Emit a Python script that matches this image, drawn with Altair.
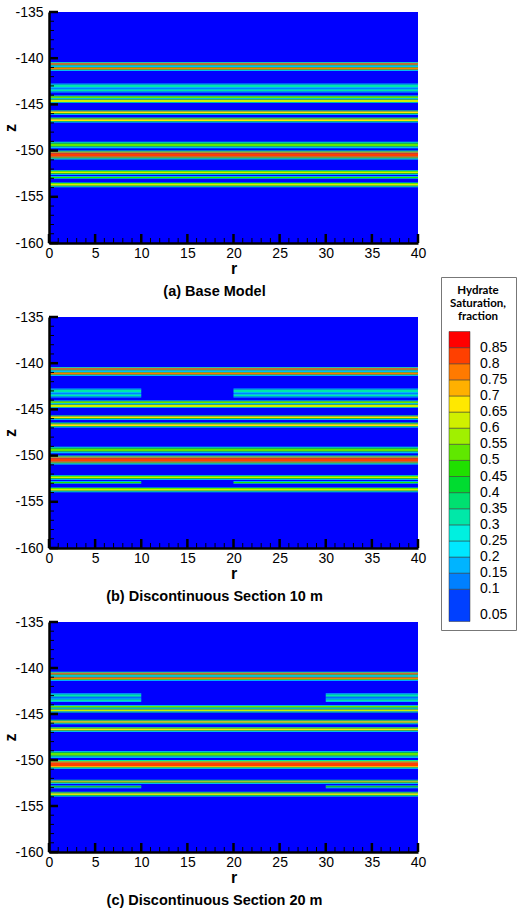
import altair as alt
import pandas as pd

# ---------------- data ----------------
R_RANGE = [0, 40]
Z_RANGE = [-160, -135]

THRESHOLDS = [0.05, 0.1, 0.15, 0.2, 0.25, 0.3, 0.35, 0.4, 0.45,
              0.5, 0.55, 0.6, 0.65, 0.7, 0.75, 0.8, 0.85]
COLORS = ["#0000FF", "#0040FF", "#0080FF", "#00B4FF", "#00E8FF", "#00F0E0",
          "#00E8A8", "#00E070", "#00DC30", "#20E000", "#60E800", "#A0F000",
          "#D0F000", "#FFE800", "#FFB000", "#FF7A00", "#FF4000", "#FF0000"]

# hydrate layers: strip tops, bottoms (m), saturation, layer id
STRIP_TOP = [-140.40, -140.48, -140.56, -140.72, -140.80, -140.88, -140.96, -141.04, -141.22, -141.30,
             -142.74, -142.84, -143.12, -143.22, -143.32, -143.42, -143.60,
             -144.05, -144.13, -144.33, -144.43, -144.51, -144.73,
             -145.62, -145.70, -145.78, -145.96, -146.04,
             -146.42, -146.50, -146.60, -146.80, -146.88,
             -149.05, -149.15, -149.25, -149.55, -149.65,
             -150.00, -150.10, -150.20, -150.30, -150.65, -150.75, -150.85,
             -152.14, -152.22, -152.31, -152.45, -152.53,
             -152.78, -152.86, -152.98,
             -153.44, -153.52, -153.61, -153.80, -153.88]
STRIP_BOT = [-140.48, -140.56, -140.72, -140.80, -140.88, -140.96, -141.04, -141.22, -141.30, -141.38,
             -142.84, -143.12, -143.22, -143.32, -143.42, -143.60, -143.70,
             -144.13, -144.33, -144.43, -144.51, -144.73, -144.83,
             -145.70, -145.78, -145.96, -146.04, -146.12,
             -146.50, -146.60, -146.80, -146.88, -146.96,
             -149.15, -149.25, -149.55, -149.65, -149.75,
             -150.10, -150.20, -150.30, -150.65, -150.75, -150.85, -150.95,
             -152.22, -152.31, -152.45, -152.53, -152.61,
             -152.86, -152.98, -153.06,
             -153.52, -153.61, -153.80, -153.88, -153.96]
STRIP_SAT = [0.27, 0.57, 0.77, 0.52, 0.27, 0.22, 0.52, 0.77, 0.52, 0.22,
             0.17, 0.32, 0.17, 0.12, 0.22, 0.32, 0.17,
             0.27, 0.52, 0.27, 0.42, 0.62, 0.32,
             0.32, 0.52, 0.67, 0.47, 0.22,
             0.32, 0.52, 0.67, 0.47, 0.22,
             0.27, 0.42, 0.52, 0.37, 0.22,
             0.32, 0.57, 0.72, 0.82, 0.72, 0.52, 0.27,
             0.32, 0.52, 0.62, 0.47, 0.22,
             0.27, 0.47, 0.27,
             0.32, 0.52, 0.62, 0.47, 0.27]
STRIP_LAYER = [1] * 10 + [2] * 7 + [3] * 6 + [4] * 5 + [5] * 5 + [6] * 5 + [7] * 7 + [8] * 5 + [9] * 3 + [10] * 5
DISC_LAYERS = [2, 9]

PANEL_TITLES = ["(a) Base Model", "(b) Discontinuous Section 10 m", "(c) Discontinuous Section 20 m"]
GAP_START = [None, 10, 10]
GAP_END = [None, 20, 30]

MAJOR_R = [0, 5, 10, 15, 20, 25, 30, 35, 40]
MINOR_R = [r for r in range(0, 41) if r % 5 != 0]
MAJOR_Z = [-135, -140, -145, -150, -155, -160]
MINOR_Z = [z for z in range(-160, -134) if z % 5 != 0]

W = 369
HEIGHTS = [231, 231, 230]
FONT = "Liberation Sans"


def panel_df(gs, ge):
    rows = [dict(r0=R_RANGE[0], r1=R_RANGE[1], z0=Z_RANGE[1], z1=Z_RANGE[0], sat=0.0)]
    for top, bot, s, lay in zip(STRIP_TOP, STRIP_BOT, STRIP_SAT, STRIP_LAYER):
        if lay in DISC_LAYERS and gs is not None:
            rows.append(dict(r0=R_RANGE[0], r1=gs, z0=top, z1=bot, sat=s))
            rows.append(dict(r0=ge, r1=R_RANGE[1], z0=top, z1=bot, sat=s))
        else:
            rows.append(dict(r0=R_RANGE[0], r1=R_RANGE[1], z0=top, z1=bot, sat=s))
    return pd.DataFrame(rows)


def make_panel(i, legend):
    H = HEIGHTS[i]
    df = panel_df(GAP_START[i], GAP_END[i])
    xax = alt.Axis(values=MAJOR_R, tickSize=0, domainWidth=2.5, domainColor="black",
                   labelFont=FONT, labelFontSize=14, labelColor="black", labelPadding=3,
                   labelFlush=False, grid=False, title="r", titleFont=FONT, titleFontSize=16,
                   titleFontWeight="bold", titleColor="black", titlePadding=0, zindex=1)
    yax = alt.Axis(values=MAJOR_Z, tickSize=0, domainWidth=2.5, domainColor="black",
                   labelFont=FONT, labelFontSize=14, labelColor="black", labelPadding=6,
                   labelExpr="'' + datum.value", grid=False, title="z", titleFont=FONT,
                   titleFontSize=16, titleFontWeight="bold", titleColor="black",
                   titlePadding=-4, zindex=1)
    color = alt.Color("sat:Q", scale=alt.Scale(type="threshold", domain=THRESHOLDS, range=COLORS),
                      legend=legend)
    rects = alt.Chart(df).mark_rect(strokeWidth=0).encode(
        x=alt.X("r0:Q", scale=alt.Scale(domain=R_RANGE, nice=False, zero=False), axis=xax),
        x2="r1:Q",
        y=alt.Y("z0:Q", scale=alt.Scale(domain=Z_RANGE, nice=False, zero=False), axis=yax),
        y2="z1:Q",
        color=color,
    )
    ymaj = alt.Chart(pd.DataFrame({"z0": MAJOR_Z})).mark_rule(color="black", strokeWidth=2.5).encode(
        y="z0:Q", x=alt.value(0), x2=alt.value(9))
    ymin = alt.Chart(pd.DataFrame({"z0": MINOR_Z})).mark_rule(color="black", strokeWidth=1).encode(
        y="z0:Q", x=alt.value(0), x2=alt.value(5))
    xmaj = alt.Chart(pd.DataFrame({"r0": MAJOR_R})).mark_rule(color="black", strokeWidth=2.5).encode(
        x="r0:Q", y=alt.value(H), y2=alt.value(H - 9))
    xmin = alt.Chart(pd.DataFrame({"r0": MINOR_R})).mark_rule(color="black", strokeWidth=1).encode(
        x="r0:Q", y=alt.value(H), y2=alt.value(H - 5))
    return alt.layer(rects, ymaj, ymin, xmaj, xmin).properties(
        width=W, height=H,
        title=alt.TitleParams(PANEL_TITLES[i], orient="bottom", anchor="middle", frame="group",
                              dx=-19, font=FONT, fontSize=14.5, fontWeight="bold",
                              color="black", offset=9),
    )


legend_c = alt.Legend(
    type="gradient", orient="none", legendX=392, legendY=-345, direction="vertical",
    title=["Hydrate", "Saturation,", "fraction"], titleFont="Lato", titleFontSize=11.5,
    titleFontWeight="bold", titleAlign="center", titleAnchor="middle", titleLineHeight=13,
    titlePadding=9, titleColor="black",
    gradientLength=290, gradientThickness=21, gradientStrokeColor="#333", gradientStrokeWidth=0.5,
    labelFont=FONT, labelFontSize=14, labelColor="black", labelOffset=10, labelOverlap=False,
    labelExpr="'' + datum.value", values=THRESHOLDS,
    padding=8, strokeColor="#777", fillColor="white", cornerRadius=0,
)

pa = make_panel(0, None)
pb = make_panel(1, None)
pc = make_panel(2, legend_c)

chart = alt.vconcat(pa, pb, pc, spacing=74, bounds="flush").resolve_legend(
    color="independent"
).properties(
    padding={"left": 2, "top": 5, "right": 0, "bottom": 2},
    background="white",
).configure_view(stroke=None)

chart.save("out.html", embed_options={"renderer": "svg", "actions": False})
